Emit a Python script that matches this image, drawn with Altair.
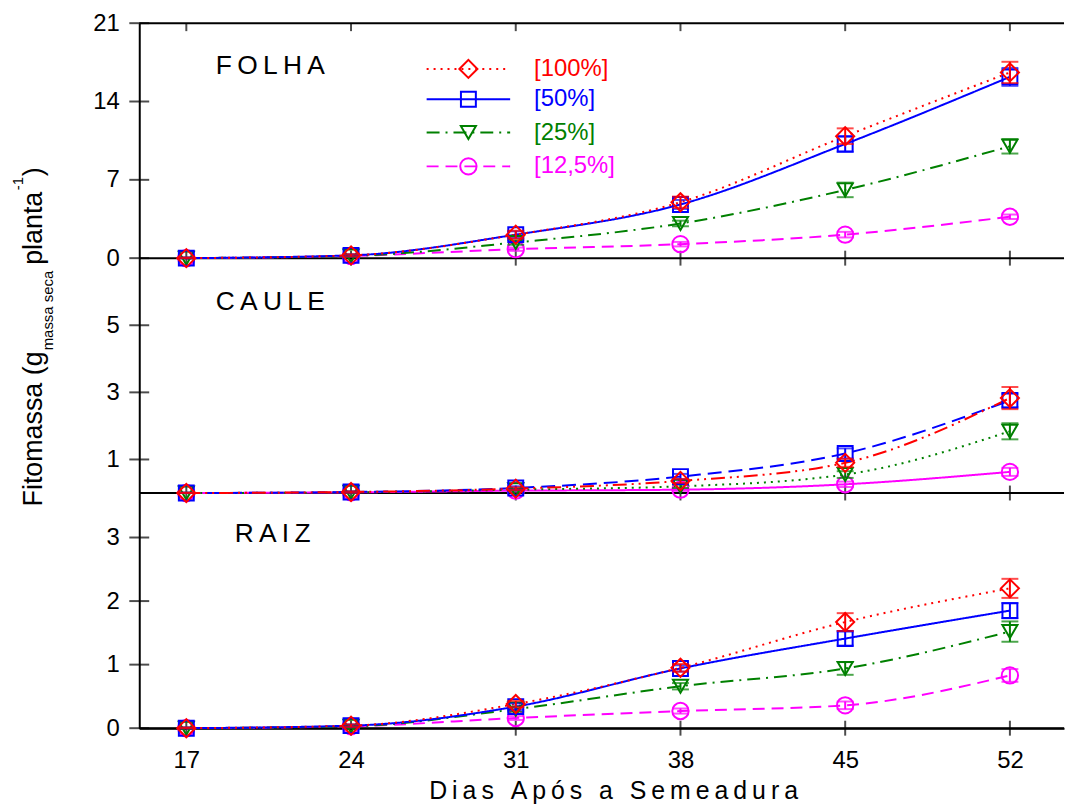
import altair as alt
import pandas as pd

FONT = "Liberation Sans, Arial, sans-serif"

days = [17, 24, 31, 38, 45, 52]
series = ["[100%]", "[50%]", "[25%]", "[12,5%]"]
colors = ["#ff0000", "#0000ff", "#008000", "#ff00ff"]
shapes = ["diamond", "square", "triangle-down", "circle"]
sizes = [330, 225, 230, 270]

# FOLHA
folha_vals = [
    [0.0, 0.25, 2.1, 5.0, 10.9, 16.6],
    [0.0, 0.25, 2.1, 4.8, 10.2, 16.2],
    [0.0, 0.2, 1.4, 3.1, 6.1, 10.0],
    [0.0, 0.2, 0.8, 1.25, 2.1, 3.7],
]
folha_errs = [
    [0.05, 0.1, 0.35, 0.5, 0.7, 0.95],
    [0.05, 0.1, 0.3, 0.4, 0.7, 0.8],
    [0.05, 0.1, 0.2, 0.25, 0.65, 0.65],
    [0.05, 0.05, 0.15, 0.2, 0.25, 0.2],
]
# CAULE
caule_vals = [
    [0.0, 0.03, 0.13, 0.36, 0.9, 2.83],
    [0.0, 0.03, 0.15, 0.49, 1.18, 2.76],
    [0.0, 0.02, 0.1, 0.2, 0.55, 1.84],
    [0.0, 0.02, 0.07, 0.1, 0.26, 0.63],
]
caule_errs = [
    [0.01, 0.02, 0.04, 0.06, 0.12, 0.33],
    [0.01, 0.02, 0.05, 0.08, 0.15, 0.2],
    [0.01, 0.02, 0.03, 0.05, 0.1, 0.24],
    [0.01, 0.01, 0.03, 0.04, 0.08, 0.12],
]
# RAIZ
raiz_vals = [
    [0.0, 0.04, 0.38, 0.95, 1.67, 2.2],
    [0.0, 0.04, 0.34, 0.94, 1.41, 1.85],
    [0.0, 0.03, 0.30, 0.66, 0.94, 1.52],
    [0.0, 0.03, 0.16, 0.27, 0.36, 0.83],
]
raiz_errs = [
    [0.01, 0.02, 0.05, 0.06, 0.14, 0.15],
    [0.01, 0.02, 0.05, 0.05, 0.11, 0.12],
    [0.01, 0.02, 0.04, 0.05, 0.1, 0.16],
    [0.01, 0.02, 0.03, 0.04, 0.06, 0.1],
]

folha_ticks = [0, 7, 14, 21]
caule_ticks = [1, 3, 5]
raiz_ticks = [0, 1, 2, 3]

# line dash styles per series
dash_main = [[2, 5], [1, 0], [13, 6, 2, 6], [12, 7]]
dash_caule = [[14, 5, 2, 5, 2, 5], [14, 7], [2, 5], [1, 0]]

W, H = 930, 709
XMIN, XMAX = 15.0, 54.3
xscale = alt.Scale(domain=[XMIN, XMAX], nice=False, zero=False)
xaxis = alt.Axis(values=days, ticks=False, tickSize=0, labelPadding=21,
                 labelFontSize=24, labelFont=FONT, labelColor="black",
                 domain=True, domainColor="black", domainWidth=2,
                 grid=False, title=None, labelFlush=False, format="d")


def panel(vals, errs, ydomain, yrange, yticks, dashes, top_value=None):
    rows = []
    for s, vl, el in zip(series, vals, errs):
        for d, v, e in zip(days, vl, el):
            rows.append(dict(day=d, v=v, lo=max(0.0, v - e), hi=v + e, s=s))
    df = pd.DataFrame(rows)
    yscale = alt.Scale(domain=ydomain, range=yrange, nice=False, zero=False)
    yaxis = alt.Axis(orient="left", values=yticks, ticks=False, tickSize=0,
                     labelPadding=20, labelFontSize=24, labelFont=FONT,
                     labelColor="black", domain=True, domainColor="black",
                     domainWidth=2, grid=False, title=None, labelFlush=False,
                     labelOverlap=False)
    X = alt.X("day:Q", scale=xscale, axis=xaxis)
    Y = alt.Y("v:Q", scale=yscale, axis=yaxis)

    layers = []
    hl = [dict(day=XMIN, day2=XMAX, v=0.0)]
    if top_value is not None:
        hl.append(dict(day=XMIN, day2=XMAX, v=top_value))
    layers.append(alt.Chart(pd.DataFrame(hl)).mark_rule(color="black", strokeWidth=2).encode(
        x=X, x2="day2:Q", y=Y))
    layers.append(alt.Chart(pd.DataFrame({"day": [XMIN] * len(yticks), "v": yticks}))
                  .mark_tick(orient="horizontal", size=20, thickness=2, color="black")
                  .encode(x=X, y=Y))
    layers.append(alt.Chart(pd.DataFrame({"day": days, "v": [0.0] * len(days)}))
                  .mark_tick(orient="vertical", size=15, thickness=2, color="black")
                  .encode(x=X, y=Y))
    if top_value is not None:
        layers.append(alt.Chart(pd.DataFrame({"day": days, "v": [top_value] * len(days)}))
                      .mark_tick(orient="vertical", size=8, thickness=2, color="black", yOffset=4)
                      .encode(x=X, y=Y))
    order = [3, 2, 1, 0]
    for i in order:
        sub = df[df.s == series[i]]
        layers.append(alt.Chart(sub).mark_line(color=colors[i], strokeWidth=2, strokeDash=dashes[i],
                                               interpolate="monotone").encode(x=X, y=Y))
    for i in order:
        sub = df[df.s == series[i]]
        base = alt.Chart(sub)
        ylo = alt.Y("lo:Q", scale=yscale, axis=yaxis)
        yhi = alt.Y("hi:Q", scale=yscale, axis=yaxis)
        layers.append(base.mark_rule(color=colors[i], strokeWidth=2).encode(x=X, y=ylo, y2="hi:Q"))
        layers.append(base.mark_tick(orient="horizontal", size=17, thickness=2,
                                     color=colors[i]).encode(x=X, y=ylo))
        layers.append(base.mark_tick(orient="horizontal", size=17, thickness=2,
                                     color=colors[i]).encode(x=X, y=yhi))
        layers.append(base.mark_point(shape=shapes[i], size=sizes[i], filled=False,
                                      strokeWidth=2, color=colors[i], opacity=1).encode(x=X, y=Y))
    return alt.layer(*layers)


p_folha = panel(folha_vals, folha_errs, [0, 21], [236.3, 0], folha_ticks, dash_main, top_value=21)
p_caule = panel(caule_vals, caule_errs, [0, 7], [472.5, 236.3], caule_ticks, dash_caule)
p_raiz = panel(raiz_vals, raiz_errs, [0, 3.7], [709, 472.5], raiz_ticks, dash_main)

one = pd.DataFrame({"a": [0]})
TS = "\u2009"


def spaced(s, sep):
    return sep.join(list(s))


texts = []
for name, px, py in [("FOLHA", 77, 51), ("CAULE", 77, 288), ("RAIZ", 96, 522)]:
    texts.append(alt.Chart(one).mark_text(text=spaced(name, TS), font=FONT, fontSize=26.5,
                                          align="left", baseline="alphabetic", color="black")
                 .encode(x=alt.value(px), y=alt.value(py)))

leg_y = [46, 76.5, 110, 144]
for i in range(4):
    texts.append(alt.Chart(one).mark_rule(color=colors[i], strokeWidth=2, strokeDash=dash_main[i])
                 .encode(x=alt.value(289), x2=alt.value(373), y=alt.value(leg_y[i])))
    texts.append(alt.Chart(one).mark_point(shape=shapes[i], size=sizes[i], filled=False,
                                           strokeWidth=2, color=colors[i], opacity=1)
                 .encode(x=alt.value(331), y=alt.value(leg_y[i])))
    texts.append(alt.Chart(one).mark_text(text=series[i], font=FONT, fontSize=24, color=colors[i],
                                          align="left", baseline="middle")
                 .encode(x=alt.value(397), y=alt.value(leg_y[i])))

texts.append(alt.Chart(one).mark_text(text=spaced("Dias Após a Semeadura", TS), font=FONT,
                                      fontSize=25, align="center", baseline="alphabetic",
                                      color="black")
             .encode(x=alt.value(477), y=alt.value(780)))

# y title pieces (rotated): text, font size, x (baseline), y (start)
ytitle = [
    ("Fitomassa (g", 27, -98, 486),
    ("massa seca", 15, -87, 329),
    ("planta", 27, -98, 243),
    ("-1", 15, -117, 168),
    (")", 27, -98, 154),
]
for t, fs, px, py in ytitle:
    texts.append(alt.Chart(one).mark_text(text=t, font=FONT, fontSize=fs, angle=270,
                                          align="left", baseline="alphabetic", color="black")
                 .encode(x=alt.value(px), y=alt.value(py)))

chart = alt.layer(p_folha, p_caule, p_raiz, *texts).resolve_scale(y="independent").resolve_axis(
    y="independent").properties(
    width=W, height=H,
    autosize=alt.AutoSizeParams(type="none"),
    padding={"left": 132, "top": 13, "right": 4, "bottom": 80},
    background="white",
).configure_view(stroke=None)

chart.save("out.html", embed_options={"renderer": "svg", "actions": False})
